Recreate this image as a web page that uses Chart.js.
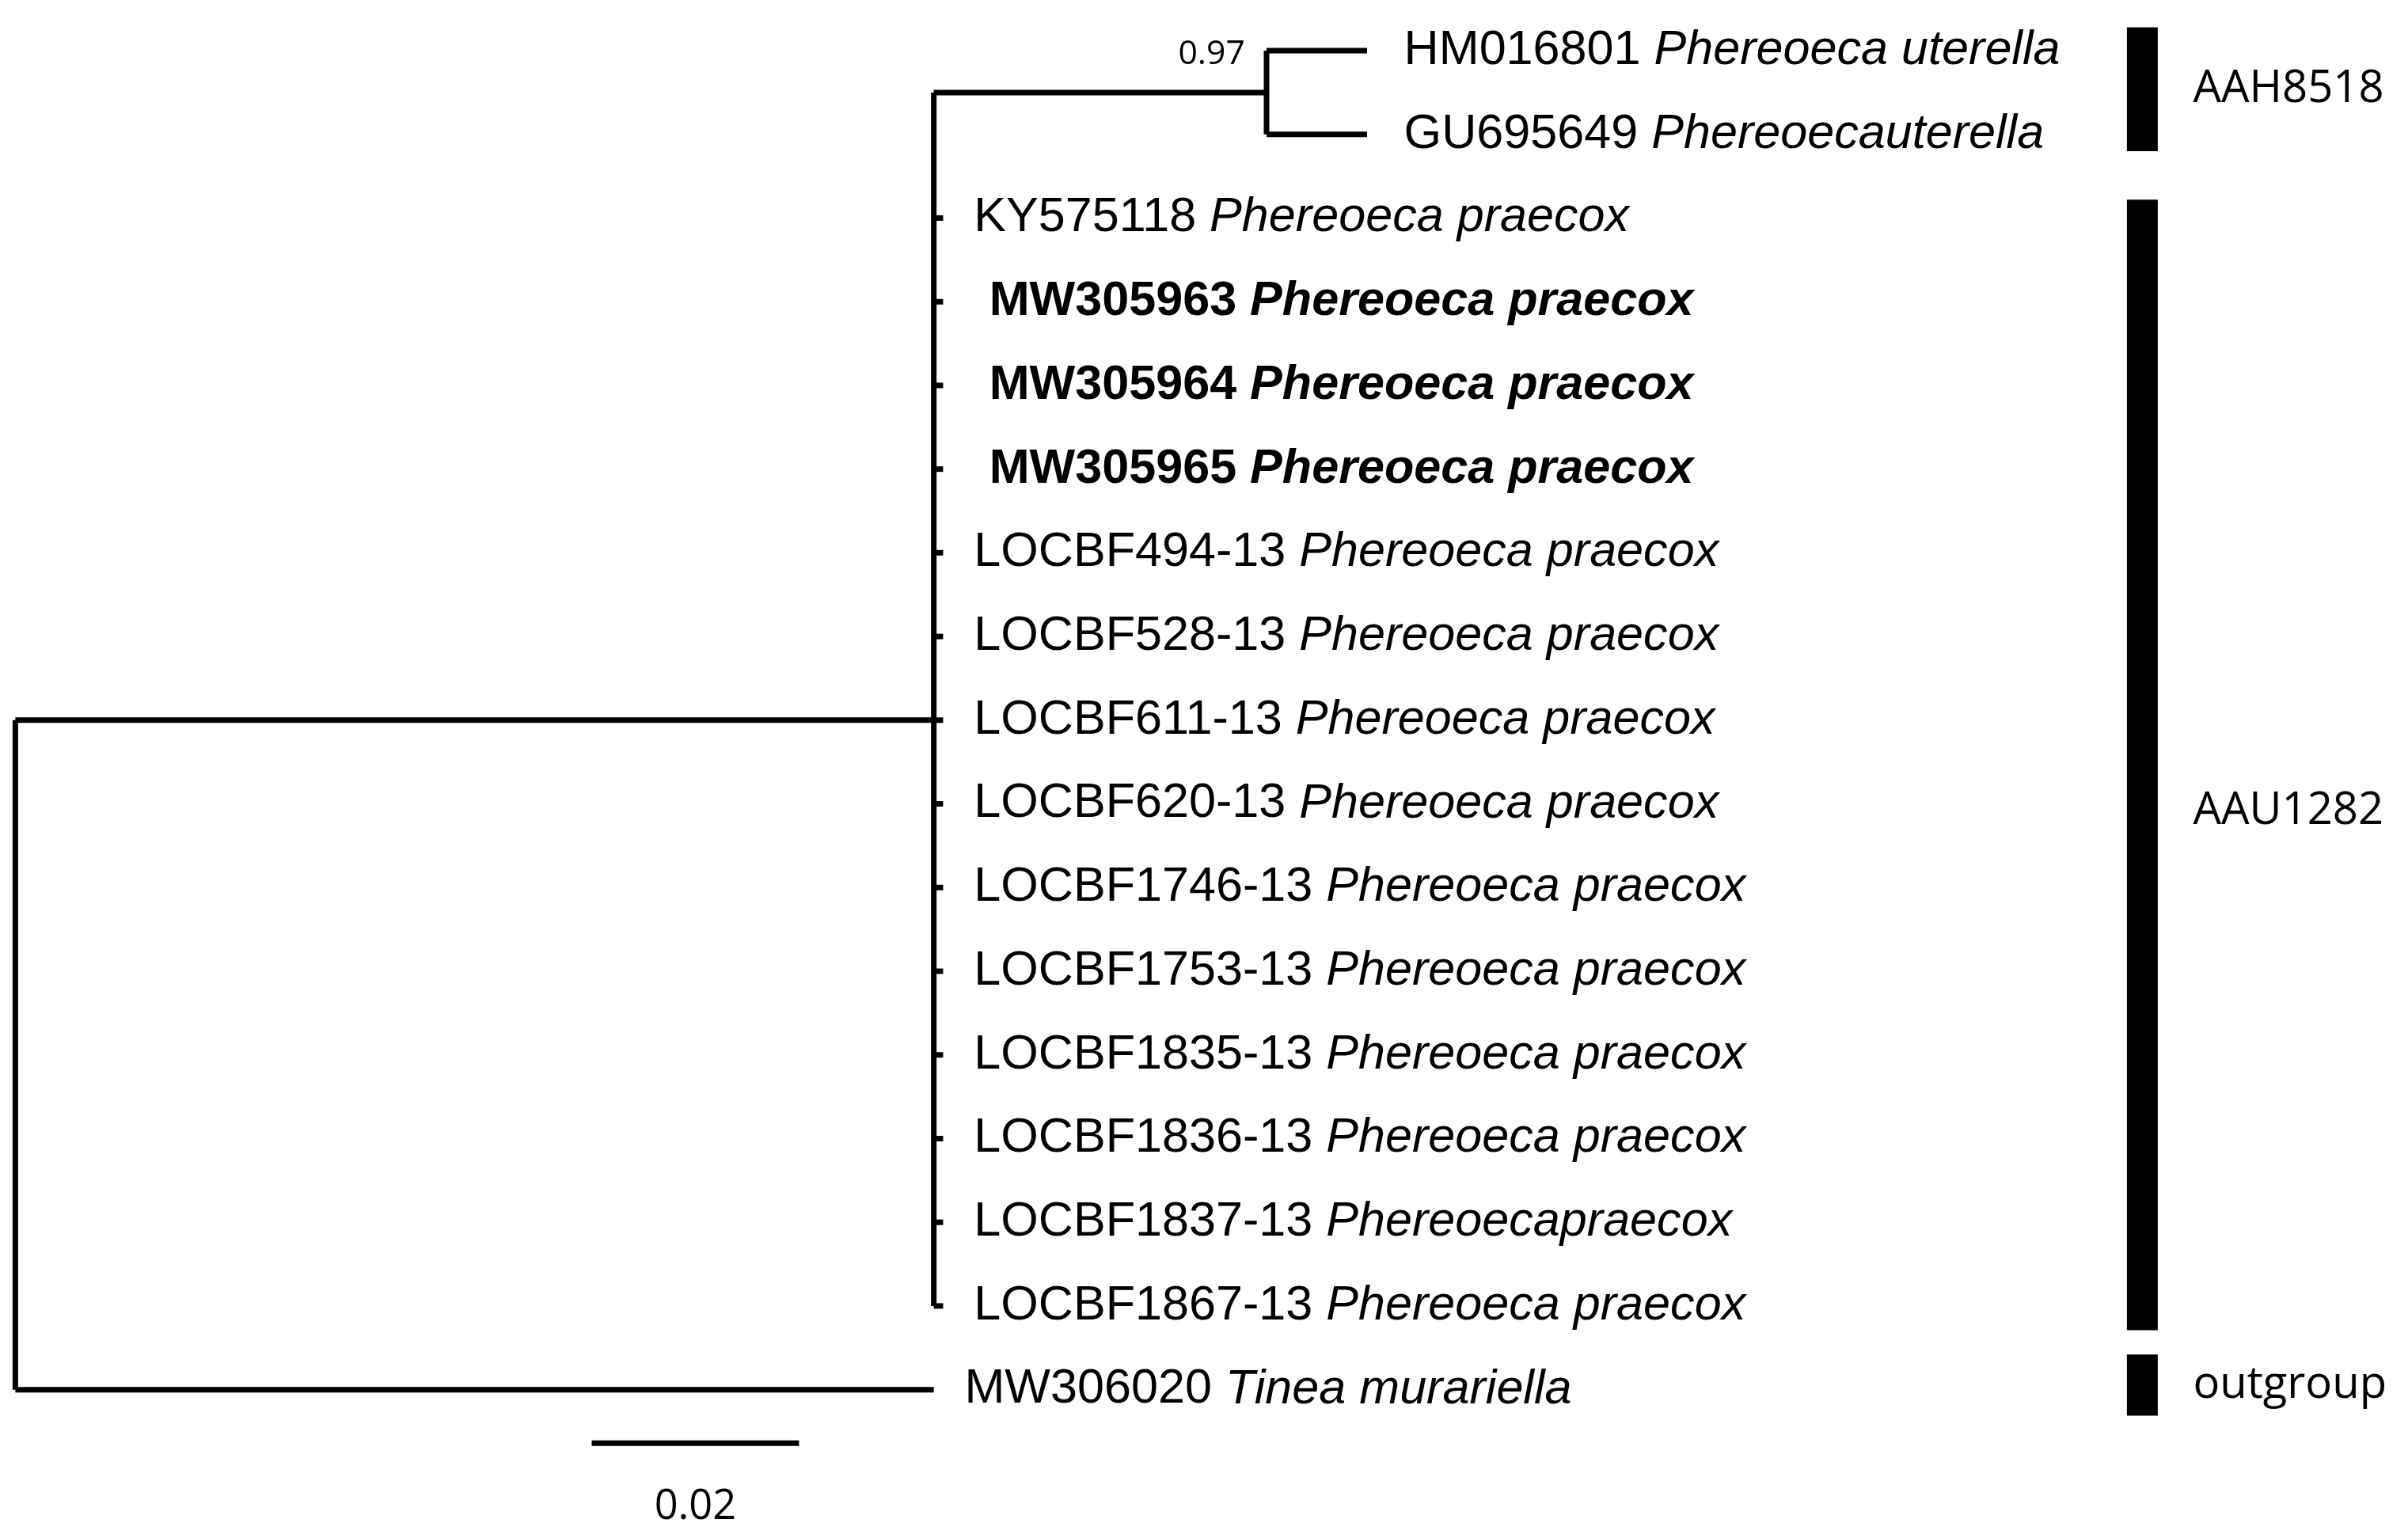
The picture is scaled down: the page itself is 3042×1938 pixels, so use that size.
<!DOCTYPE html>
<html>
<head>
<meta charset="utf-8">
<script src="https://cdn.jsdelivr.net/npm/chart.js@4"></script>
<style>
html, body { margin: 0; padding: 0; background: #fff; }
#wrap { width: 3042px; height: 1938px; }
</style>
</head>
<body>
<div id="wrap"><canvas id="tree"></canvas></div>
<script>
// tips, top to bottom (row index = position in list)
const tipIds = ['HM016801', 'GU695649', 'KY575118', 'MW305963', 'MW305964', 'MW305965',
    'LOCBF494-13', 'LOCBF528-13', 'LOCBF611-13', 'LOCBF620-13', 'LOCBF1746-13', 'LOCBF1753-13',
    'LOCBF1835-13', 'LOCBF1836-13', 'LOCBF1837-13', 'LOCBF1867-13', 'MW306020'];
const tipSpecies = ['Phereoeca uterella', 'Phereoecauterella', 'Phereoeca praecox', 'Phereoeca praecox',
    'Phereoeca praecox', 'Phereoeca praecox', 'Phereoeca praecox', 'Phereoeca praecox', 'Phereoeca praecox',
    'Phereoeca praecox', 'Phereoeca praecox', 'Phereoeca praecox', 'Phereoeca praecox', 'Phereoeca praecox',
    'Phereoecapraecox', 'Phereoeca praecox', 'Tinea murariella'];
const tipBold = [false, false, false, true, true, true, false, false, false, false, false, false, false, false, false, false, false];
// branch lengths from root (substitutions/site)
const tipDepth = [0.1304, 0.1304, 0.0895, 0.0895, 0.0895, 0.0895, 0.0895, 0.0895, 0.0895, 0.0895,
    0.0895, 0.0895, 0.0895, 0.0895, 0.0895, 0.0895, 0.0886];
const cladeNode = 0.0886;
const subNode = 0.1207;
const supportLabel = '0.97';
const groupNames = ['AAH8518', 'AAU1282', 'outgroup'];
const groupFrom = [-0.28, 1.78, 15.58];
const groupTo = [1.2, 15.29, 16.31];
const scaleBar = [0.0556, 0.0756];
const scaleLabel = '0.02';

const k = 0.02 / 135;
const seg = (pts, w) => ({ data: pts, showLine: true, borderColor: '#000', borderWidth: w || 7,
    pointRadius: 0, borderCapStyle: 'butt', fill: false });

const datasets = [
    seg([{x: 0, y: 8}, {x: 0, y: 16}]),
    seg([{x: 0, y: 8}, {x: cladeNode, y: 8}]),
    seg([{x: 0, y: 16}, {x: tipDepth[16], y: 16}]),
    seg([{x: cladeNode, y: 0.5}, {x: cladeNode, y: 15}]),
    seg([{x: cladeNode, y: 0.5}, {x: subNode, y: 0.5}]),
    seg([{x: subNode, y: 0}, {x: subNode, y: 1}]),
    seg([{x: subNode, y: 0}, {x: tipDepth[0], y: 0}]),
    seg([{x: subNode, y: 1}, {x: tipDepth[1], y: 1}]),
    seg([{x: scaleBar[0], y: 16.64}, {x: scaleBar[1], y: 16.64}])
];
for (let i = 2; i <= 15; i++) datasets.push(seg([{x: cladeNode, y: i}, {x: tipDepth[i], y: i}]));
const barX = (1395 - 10) * k;
for (let g = 0; g < groupNames.length; g++) {
    datasets.push(seg([{x: barX, y: groupFrom[g]}, {x: barX, y: groupTo[g]}], 39));
}

const labels = {
    id: 'labels',
    afterDatasetsDraw(chart) {
        const c = chart.ctx, xs = chart.scales.x, ys = chart.scales.y;
        const s = chart.width / 1568;
        const fam = '"Liberation Sans", Arial, sans-serif';
        c.save();
        c.fillStyle = '#000';
        c.textBaseline = 'middle';
        for (let i = 0; i < tipIds.length; i++) {
            const b = tipBold[i] ? 'bold ' : '';
            let x = xs.getPixelForValue(tipDepth[i]) + (i < 2 ? 24 : tipBold[i] ? 30 : 20) * s;
            const y = ys.getPixelForValue(i);
            c.font = b + (31.5 * s) + 'px ' + fam;
            c.fillText(tipIds[i] + ' ', x, y);
            x += c.measureText(tipIds[i] + ' ').width;
            c.font = 'italic ' + b + (31.5 * s) + 'px ' + fam;
            c.fillText(tipSpecies[i], x, y);
        }
        c.font = (22 * s) + 'px "Open Sans", sans-serif';
        c.textAlign = 'right';
        c.fillText(supportLabel, xs.getPixelForValue(subNode) - 14 * s, ys.getPixelForValue(0.05));
        c.textAlign = 'center';
        c.font = (27 * s) + 'px "Open Sans", sans-serif';
        c.fillText(scaleLabel, xs.getPixelForValue((scaleBar[0] + scaleBar[1]) / 2), ys.getPixelForValue(17.4));
        c.textAlign = 'left';
        c.font = (29 * s) + 'px "Open Sans", sans-serif';
        for (let g = 0; g < groupNames.length; g++) {
            const y = ys.getPixelForValue((groupFrom[g] + groupTo[g]) / 2 + (g === 1 ? 0.55 : 0));
            c.fillText(groupNames[g], xs.getPixelForValue(barX) + 33 * s, y);
        }
        c.restore();
    }
};

new Chart(document.getElementById('tree'), {
    type: 'scatter',
    data: { datasets: datasets },
    options: {
        responsive: true,
        maintainAspectRatio: false,
        animation: false,
        layout: { padding: 0 },
        scales: {
            x: { type: 'linear', display: false, min: -10 * k, max: 1558 * k },
            y: { type: 'linear', display: false, reverse: true, min: -33 / 54.5, max: (999 - 33) / 54.5 }
        },
        plugins: { legend: { display: false }, tooltip: { enabled: false } }
    },
    plugins: [labels]
});
</script>
</body>
</html>
